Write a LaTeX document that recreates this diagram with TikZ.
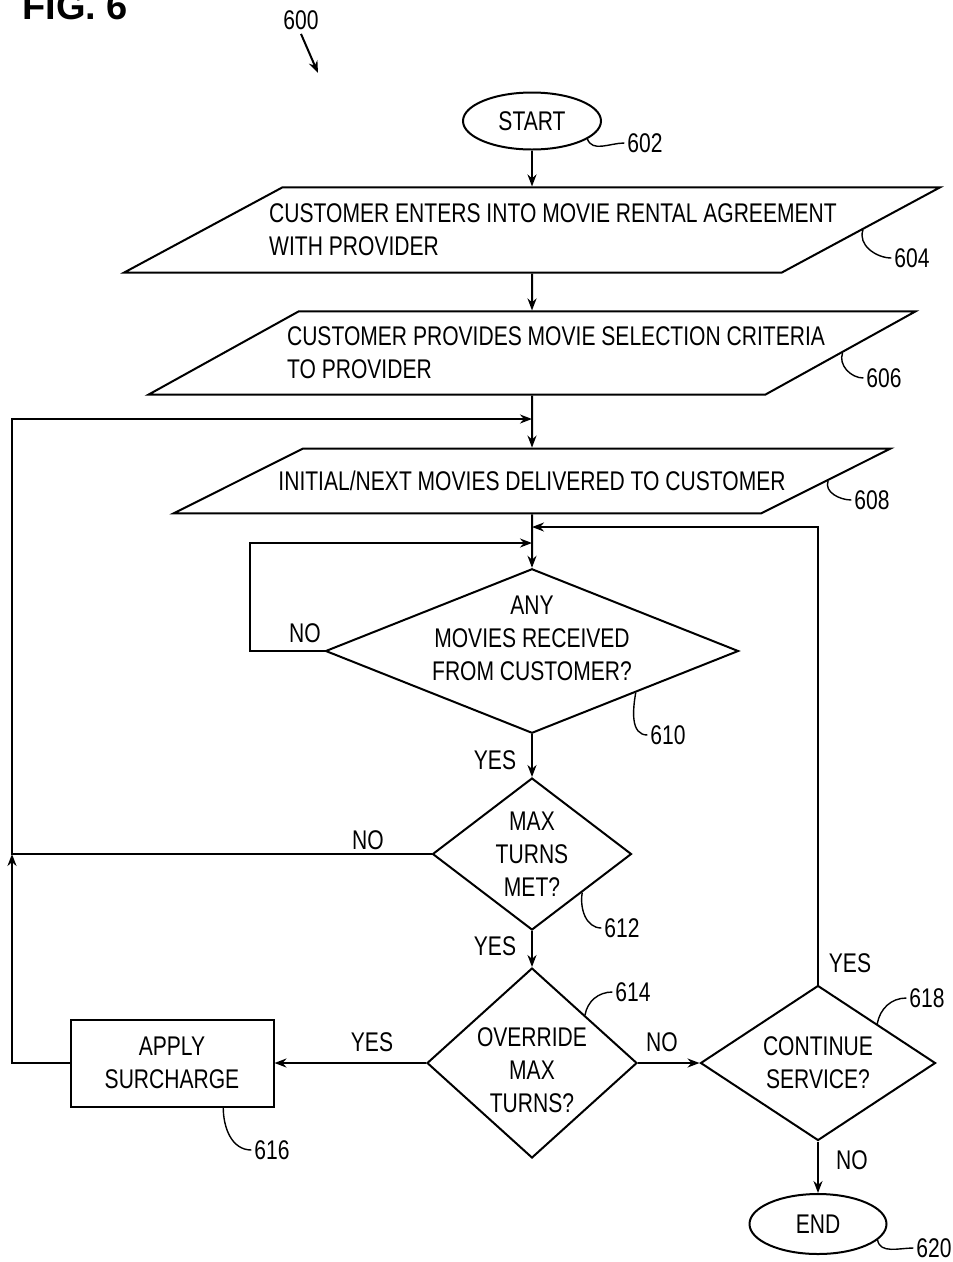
\documentclass[tikz,border=0pt]{standalone}
\usepackage{fontspec}
\setmainfont{Liberation Sans}[FakeStretch=0.78]
\newfontfamily\figfont{Liberation Sans}
\usetikzlibrary{shapes,arrows.meta,positioning,calc}

\begin{document}
\begin{tikzpicture}[x=1pt, y=-1pt, line width=2pt,
    font=\fontsize{27}{33}\selectfont,
    term/.style={ellipse, draw, minimum width=138pt, minimum height=57pt, inner sep=0pt},
    io/.style={trapezium, draw, trapezium stretches body, align=left},
    dec/.style={diamond, draw, align=center, inner sep=0pt},
    proc/.style={rectangle, draw, align=center, minimum width=203pt, minimum height=87pt},
    arr/.style={-{Stealth[length=12pt,width=9pt]}},
    tag/.style={inner sep=2pt},
    lead/.style={line width=1.4pt}]
    \useasboundingbox (0,0) rectangle (953,1262);

    % Title
    \node[anchor=base west, font=\figfont\fontsize{38}{40}\selectfont\bfseries] (fig) at (18,19) {FIG. 6};
    \node (n600) at (301,20) {600};
    \coordinate (a600) at (318,73);
    \draw[arr] (n600.south) -- (a600);

    % Main column
    \node[term] (start) at (532,121) {START};
    \node[io, trapezium left angle=28.3, trapezium right angle=151.7, inner ysep=16.5pt, inner xsep=-55pt]
        (agree) at (532,230) {\hspace*{42pt}CUSTOMER ENTERS INTO MOVIE RENTAL AGREEMENT\\\hspace*{42pt}WITH PROVIDER};
    \node[io, trapezium left angle=29, trapezium right angle=151, inner ysep=15.5pt, inner xsep=-59.5pt]
        (crit) at (532,353) {\hspace*{48pt}CUSTOMER PROVIDES MOVIE SELECTION CRITERIA\\\hspace*{48pt}TO PROVIDER};
    \node[io, trapezium left angle=26.6, trapezium right angle=153.4, inner ysep=22.5pt, inner xsep=-24.5pt]
        (deliver) at (532,481) {INITIAL/NEXT MOVIES DELIVERED TO CUSTOMER};
    \node[dec, aspect=2.5, minimum width=413pt, minimum height=163pt, text depth=26pt, inner ysep=-13pt]
        (recv) at (532,651) {ANY\\MOVIES RECEIVED\\FROM CUSTOMER?};
    \node[dec, aspect=1.31, minimum width=199pt, minimum height=152pt] (maxmet) at (532,854) {MAX\\TURNS\\MET?};
    \node[dec, aspect=1.1, minimum width=210pt, minimum height=190pt, text height=100pt, inner ysep=-7pt]
        (override) at (532,1063) {OVERRIDE\\MAX\\TURNS?};
    \node[proc] (surch) at (172,1063) {APPLY\\SURCHARGE};
    \node[dec, aspect=1.5, minimum width=235pt, minimum height=155pt] (cont) at (818,1063) {CONTINUE\\SERVICE?};
    \node[term, minimum width=137pt, minimum height=60pt] (stop) at (818,1224) {END};

    % Flow
    \draw[arr] (start) -- (agree);
    \draw[arr] (agree) -- (crit);
    \draw[arr] (crit) -- (deliver);
    \draw[arr] (deliver) -- (recv);
    \draw[arr] (recv) -- (maxmet);
    \draw[arr] (maxmet) -- (override);
    \draw[arr] (override) -- (surch);
    \draw[arr] (override) -- (cont);
    \draw[arr] (cont) -- (stop);

    % Loops back
    \coordinate (j1) at (532,419);
    \coordinate (j2) at (532,527);
    \coordinate (j3) at (532,543);
    \coordinate (lft) at (12,854);
    \draw[arr] (surch.west) -| (lft);
    \draw[arr] (maxmet.west) -- (lft) |- (j1);
    \draw[arr] (recv.west) -- ++(-75,0) |- (j3);
    \draw[arr] (cont.north) |- (j2);

    % Branch labels
    \node (no1) at (305,633) {NO};
    \node (yes1) at (495,760) {YES};
    \node (no2) at (368,840) {NO};
    \node (yes2) at (495,946) {YES};
    \node (yes3) at (372,1042) {YES};
    \node (no3) at (662,1042) {NO};
    \node (yes4) at (850,963) {YES};
    \node (no4) at (852,1160) {NO};

    % Reference numerals
    \node[tag] (t602) at (645,143) {602};
    \node[tag] (t604) at (912,258) {604};
    \node[tag] (t606) at (884,378) {606};
    \node[tag] (t608) at (872,500) {608};
    \node[tag] (t610) at (668,735) {610};
    \node[tag] (t612) at (622,928) {612};
    \node[tag] (t614) at (633,992) {614};
    \node[tag] (t616) at (272,1150) {616};
    \node[tag] (t618) at (927,998) {618};
    \node[tag] (t620) at (934,1248) {620};

    \draw[lead] (start.-18) to[out=-70,in=180] (t602.west);
    \draw[lead] (agree.east) to[out=-110,in=180] (t604.west);
    \draw[lead] (crit.east) to[out=-110,in=180] (t606.west);
    \draw[lead] (deliver.east) to[out=-110,in=180] (t608.west);
    \draw[lead] (recv.south east) to[out=-100,in=180] (t610.west);
    \draw[lead] (maxmet.south east) to[out=-100,in=180] (t612.west);
    \draw[lead] (override.north east) to[out=80,in=180] (t614.west);
    \draw[lead] ($(surch.south east)!0.25!(surch.south west)$) to[out=-90,in=180] (t616.west);
    \draw[lead] (cont.north east) to[out=80,in=180] (t618.west);
    \draw[lead] (stop.-15) to[out=-80,in=180] (t620.west);
\end{tikzpicture}
\end{document}
